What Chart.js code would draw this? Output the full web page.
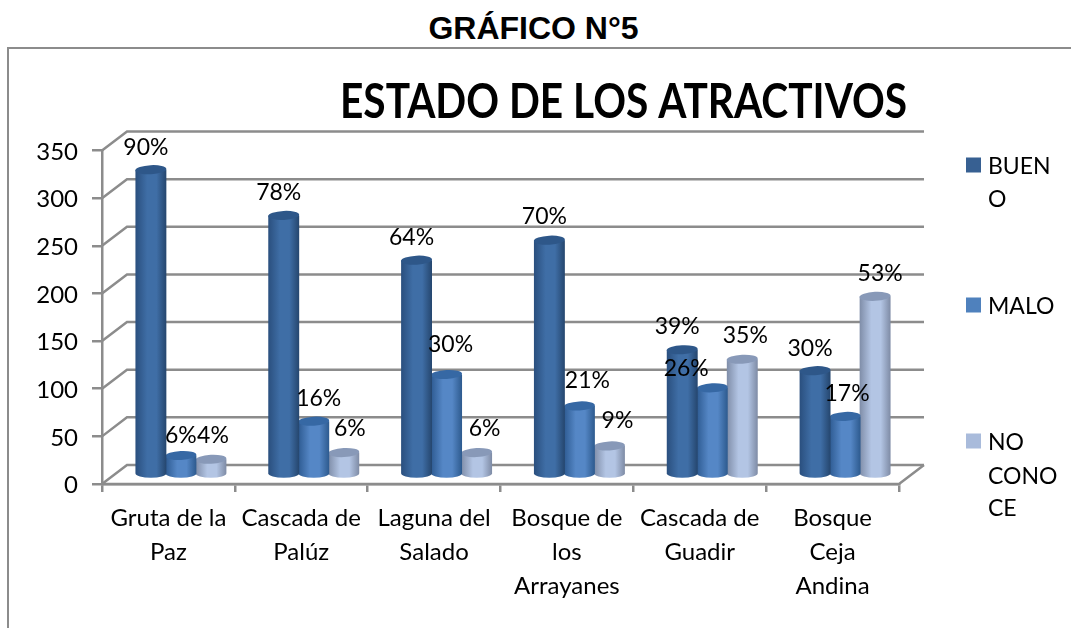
<!DOCTYPE html>
<html><head><meta charset="utf-8">
<style>
html,body{margin:0;padding:0;background:#fff;width:1071px;height:629px;overflow:hidden}
#wrap{position:relative;width:1071px;height:629px}
canvas{position:absolute;left:0;top:0}
#frame{position:absolute;left:7px;top:47px;right:-4px;bottom:1px;border:2px solid #8c8c8c;border-right:none;border-bottom:none}
#head{position:absolute;left:0;width:1067px;top:10px;text-align:center;font:bold 32px "Liberation Sans",Arial,sans-serif;color:#000}
</style></head>
<body><div id="wrap"><div id="head">GRÁFICO N°5</div><div id="frame"></div><canvas id="c" width="1071" height="629"></canvas></div>
<script src="https://cdn.jsdelivr.net/npm/chart.js@4"></script>
<script>
const categories=[["Gruta de la","Paz"],["Cascada de","Palúz"],["Laguna del","Salado"],["Bosque de","los","Arrayanes"],["Cascada de","Guadir"],["Bosque","Ceja","Andina"]];
const seriesNames=["BUENO","MALO","NO CONOCE"];
const bueno=[320,272,225,246,131,109];
const malo=[20,56,105,72,91,61];
const noConoce=[16,23,23,30,121,187];
const buenoPct=["90%","78%","64%","70%","39%","30%"];
const maloPct=["6%","16%","30%","21%","26%","17%"];
const noConocePct=["4%","6%","6%","9%","35%","53%"];
const yTicks=[0,50,100,150,200,250,300,350];
const legendLines=[["BUEN","O"],["MALO"],["NO","CONO","CE"]];

// styling (not data)
const FONT='Lato, Carlito, sans-serif', GREY='#8c8c8c';
const DEPTH={x:25,y:-19}, BAR={x:12.5,y:-9.5}, RY=4.5;
const palette={
 '#376092':{edgeL:'#2a4f7e',mid:'#3f6ea6',edgeR:'#25466e',cap:'#2e5789'},
 '#4f81bd':{edgeL:'#2e5b92',mid:'#5587c6',edgeR:'#2d5a8e',cap:'#3668a4'},
 '#a9bbdb':{edgeL:'#7f8da8',mid:'#b3c5e4',edgeR:'#7e8ba5',cap:'#8899b8'}
};
const labelDX=[[-5,-5,-5,-5,-5,-5],[0,5,4,8,-26,2],[2,6,8,8,3,5]];
const labelDY=[[-22,-23,-23,-24,-23,-22],[-20,-23,-30,-25,-19,-23],[-24,-24,-24,-25,-24,-23]];
const legendY=[[167,200],[307],[443,477,509]];

// cylinders: keep the library's bar geometry, change how each bar is painted
Chart.BarElement.prototype.draw=function(ctx){
  const {x,y,base,width}=this.getProps(['x','y','base','width'],true);
  const p=palette[this.options.backgroundColor]; 
  const cx=x+BAR.x, top=y+BAR.y, bot=base+BAR.y, r=width/2;
  ctx.save();
  const g=ctx.createLinearGradient(cx-r,0,cx+r,0);
  g.addColorStop(0,p.edgeL);g.addColorStop(.38,p.mid);g.addColorStop(.68,p.mid);g.addColorStop(1,p.edgeR);
  ctx.fillStyle=g;
  ctx.beginPath();
  ctx.moveTo(cx-r,top);ctx.lineTo(cx-r,bot);
  ctx.ellipse(cx,bot,r,RY,0,Math.PI,0,true);
  ctx.lineTo(cx+r,top);
  ctx.closePath();ctx.fill();
  ctx.fillStyle=p.cap;
  ctx.beginPath();ctx.ellipse(cx,top,r,RY,-0.05,0,Math.PI*2);ctx.fill();
  ctx.restore();
};

const walls={id:'walls',
 beforeDatasetsDraw(chart){
  const {ctx,scales:{x,y}}=chart;const L=x.left,R=x.right;
  ctx.save();ctx.strokeStyle=GREY;ctx.lineWidth=2.5;ctx.lineJoin='miter';
  yTicks.forEach(v=>{const py=y.getPixelForValue(v);
    ctx.beginPath();ctx.moveTo(L,py);ctx.lineTo(L+DEPTH.x,py+DEPTH.y);ctx.lineTo(R+DEPTH.x,py+DEPTH.y);ctx.stroke();});
  const y0=y.getPixelForValue(0);
  ctx.beginPath();ctx.moveTo(L,y0);ctx.lineTo(R,y0);ctx.lineTo(R+DEPTH.x,y0+DEPTH.y);ctx.stroke();
  ctx.restore();
 }};

const annot={id:'annot',
 afterLayout(chart){const t=chart.titleBlock;t.left=340;t.right=907;t.top=74;t.bottom=132;},
 afterDatasetsDraw(chart){
  const ctx=chart.ctx,pcts=[buenoPct,maloPct,noConocePct];
  ctx.save();ctx.fillStyle='#000';ctx.font='23px '+FONT;ctx.textAlign='center';ctx.textBaseline='middle';
  pcts.forEach((arr,d)=>{const els=chart.getDatasetMeta(d).data;
    arr.forEach((s,i)=>ctx.fillText(s,els[i].x+BAR.x+labelDX[d][i],els[i].y+BAR.y+labelDY[d][i]));});
  // legend
  ctx.textAlign='left';
  legendLines.forEach((lines,d)=>{
    const ys=legendY[d];
    ctx.fillStyle=chart.data.datasets[d].backgroundColor;
    ctx.fillRect(966,ys[0]-9.5,15,15);
    ctx.fillStyle='#000';
    lines.forEach((t,k)=>ctx.fillText(t,988,ys[k]));
  });
  ctx.restore();
 }};

new Chart(document.getElementById('c'),{
 type:'bar',
 data:{labels:categories,datasets:[
  {label:seriesNames[0],data:bueno,backgroundColor:'#376092'},
  {label:seriesNames[1],data:malo,backgroundColor:'#4f81bd'},
  {label:seriesNames[2],data:noConoce,backgroundColor:'#a9bbdb'}]},
 plugins:[walls,annot],
 options:{responsive:false,animation:false,devicePixelRatio:1,
  layout:{padding:{left:0,top:93,right:172,bottom:0}},
  datasets:{bar:{categoryPercentage:0.678,barPercentage:1.03}},
  plugins:{legend:{display:false},tooltip:{enabled:false},
   title:{display:true,text:'ESTADO DE LOS ATRACTIVOS',align:'end',color:'#000',padding:0,font:{family:FONT,size:48,weight:'bold',lineHeight:1.2}}},
  scales:{
   x:{grid:{display:true,drawOnChartArea:false,color:GREY,lineWidth:2.5,tickLength:8,offset:true},border:{color:GREY,width:2.5},
      ticks:{color:'#000',font:{family:FONT,size:24,lineHeight:1.42},maxRotation:0,minRotation:0,autoSkip:false,padding:9},
      afterFit(s){s.height=145;}},
   y:{min:0,max:350,grid:{drawOnChartArea:false,color:GREY,lineWidth:2.5,tickLength:10},border:{color:GREY,width:2.5},
      ticks:{color:'#000',stepSize:50,font:{family:FONT,size:24},padding:14,labelOffset:1.5},
      afterFit(s){s.width=102;}}
  }}
});
</script></body></html>
